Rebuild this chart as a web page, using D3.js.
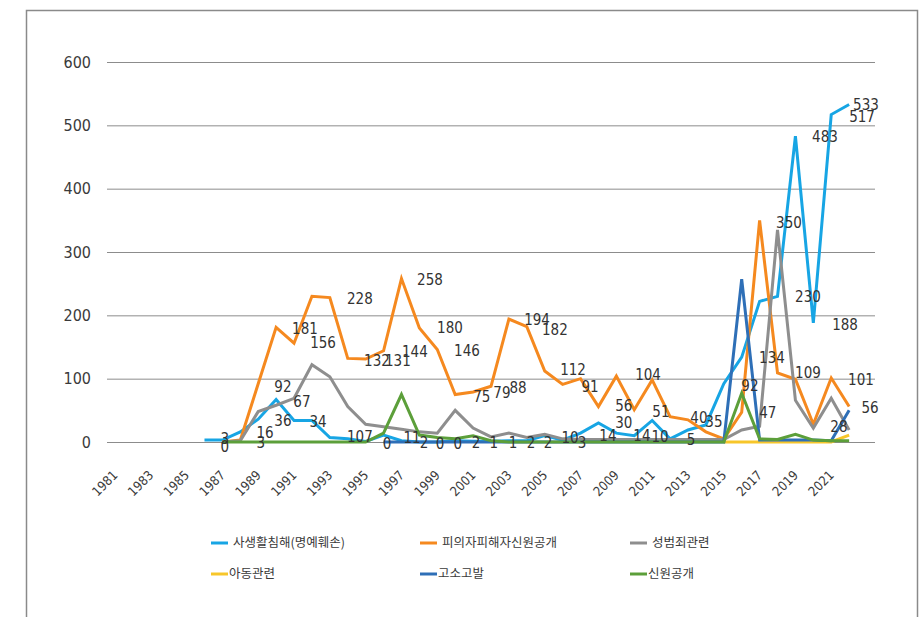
<!DOCTYPE html>
<html>
<head>
<meta charset="utf-8">
<script src="https://cdn.jsdelivr.net/npm/d3@7"></script>
<style>
    body { margin: 0; background: #fff; }
    svg text { fill: #3a3a3a; }
</style>
</head>
<body>
<div id="chart"></div>
<script>
// Years on the category axis
const years = [1981, 1982, 1983, 1984, 1985, 1986, 1987, 1988, 1989, 1990,
    1991, 1992, 1993, 1994, 1995, 1996, 1997, 1998, 1999, 2000,
    2001, 2002, 2003, 2004, 2005, 2006, 2007, 2008, 2009, 2010,
    2011, 2012, 2013, 2014, 2015, 2016, 2017, 2018, 2019, 2020,
    2021, 2022];
const yearLabels = [1981, 1983, 1985, 1987, 1989, 1991, 1993, 1995, 1997, 1999,
    2001, 2003, 2005, 2007, 2009, 2011, 2013, 2015, 2017, 2019, 2021];
const yTicks = [0, 100, 200, 300, 400, 500, 600];

const seriesNames = ["사생활침해(명예훼손)", "피의자피해자신원공개", "성범죄관련", "아동관련", "고소고발", "신원공개"];
const seriesColors = ["#17a5e4", "#f5891f", "#8e8e8e", "#f7c62a", "#2e6fb7", "#5c9f3a"];

// values per year, 1981 .. 2022 (null = no entry)
const privacy = [null, null, null, null, null, 3, 3, 16, 36, 67,
    34, 34, 7, 5, 1, 11, 2, 0, 0, 2,
    1, 1, 2, 2, 10, 3, 14, 30, 14, 10,
    34, 5, 19, 27, 92, 134, 222, 230, 483, 188,
    517, 533];
const identityDisclosure = [null, null, null, null, null, null, 0, 3, 92, 181,
    156, 230, 228, 132, 131, 144, 258, 180, 146, 75,
    79, 88, 194, 182, 112, 91, 100, 56, 104, 51,
    98, 40, 35, 16, 5, 47, 350, 109, 99, 28,
    101, 56];
const sexCrime = [null, null, null, null, null, null, 0, 2, 48, 58,
    69, 122, 103, 56, 28, 24, 20, 16, 14, 50,
    22, 8, 14, 7, 12, 5, 4, 4, 4, 4,
    4, 4, 4, 4, 4, 19, 25, 335, 66, 22,
    69, 19];
const children = [null, null, null, null, null, null, null, null, null, null,
    null, null, null, null, null, null, null, null, null, null,
    null, null, null, null, null, null, null, null, null, null,
    null, null, null, null, 0, 0, 0, 0, 0, 0,
    0, 11];
const complaint = [null, null, null, null, null, null, null, null, null, null,
    null, null, null, null, null, 0, 0, 0, 0, 0,
    0, 0, 0, 0, 0, 0, 0, 0, 0, 0,
    0, 0, 0, 0, 0, 257, 3, 3, 3, 3,
    2, 50];
const identity = [null, null, null, null, null, null, 0, 0, 0, 0,
    0, 0, 0, 0, 0, 14, 75, 11, 7, 5,
    10, 2, 0, 0, 0, 0, 0, 0, 0, 0,
    0, 0, 0, 0, 0, 77, 5, 4, 12, 3,
    2, 2];

// data labels as they sit in the picture: [year, value, text]
const dataLabels = [
    [1987.14, 4.7, "3"], [1987.14, -7.9, "0"], [1989.38, 14.2, "16"], [1989.15, -1.6, "3"],
    [1990.38, 86.8, "92"], [1990.38, 33.2, "36"], [1991.44, 63.2, "67"], [1991.61, 178.4, "181"],
    [1992.62, 156.3, "156"], [1992.34, 31.6, "34"], [1994.68, 225.8, "228"], [1994.68, 7.9, "107"],
    [1995.63, 127.9, "132"], [1996.8, 127.9, "131"], [1997.75, 142.1, "144"], [1998.59, 255.8, "258"],
    [1996.19, -3.2, "0"], [1997.59, 6.3, "11"], [1998.26, -1.6, "2"], [1999.71, 180, "180"],
    [2000.66, 143.7, "146"], [1999.15, -3.2, "0"], [2000.15, -3.2, "0"], [2001.16, -1.6, "2"],
    [2002.16, -1.6, "1"], [2003.23, -1.6, "1"], [2004.23, -1.6, "2"], [2005.18, -1.6, "2"],
    [2001.49, 71, "75"], [2002.61, 77.4, "79"], [2003.51, 85.3, "88"], [2004.57, 192.6, "194"],
    [2005.57, 176.8, "182"], [2006.58, 113.7, "112"], [2007.53, 86.8, "91"], [2006.41, 6.3, "10"],
    [2007.08, -1.6, "3"], [2008.53, 9.5, "14"], [2009.42, 56.8, "56"], [2009.42, 30, "30"],
    [2010.77, 105.8, "104"], [2010.43, 9.5, "14"], [2011.44, 7.9, "10"], [2011.49, 47.4, "51"],
    [2013.61, 37.9, "40"], [2013.17, 3.2, "5"], [2014.45, 31.6, "35"], [2016.46, 88.4, "92"],
    [2017.46, 45.8, "47"], [2017.69, 132.6, "134"], [2018.64, 345.8, "350"], [2019.7, 229, "230"],
    [2019.7, 109, "109"], [2020.65, 481.6, "483"], [2021.77, 184.7, "188"], [2021.43, 23.7, "28"],
    [2022.66, 97.9, "101"], [2023.17, 53.7, "56"], [2022.72, 513.2, "517"], [2022.94, 532.1, "533"]
];

function init() {
    const width = 922;
    const height = 617;
    const numFont = "'DejaVu Sans', sans-serif";
    const korFont = "'Noto Sans CJK KR', 'Noto Sans', sans-serif";

    const svg = d3.select("#chart").append("svg")
        .attr("width", width)
        .attr("height", height);

    // outer frame (bottom edge runs off the picture)
    svg.append("rect")
        .attr("x", 26.5).attr("y", 10.5)
        .attr("width", 891).attr("height", 640)
        .attr("fill", "none")
        .attr("stroke", "#8a8a8a")
        .attr("stroke-width", 1.5);

    const x = d3.scaleLinear().domain([1980.5, 2023.5]).range([106, 876]);
    const y = d3.scaleLinear().domain([0, 600]).range([442, 62]);

    // y axis with gridlines
    const yAxis = svg.append("g")
        .attr("transform", "translate(107,0)")
        .call(d3.axisLeft(y).tickValues(yTicks).tickSize(-768).tickPadding(16));
    yAxis.select(".domain").remove();
    yAxis.selectAll(".tick line").attr("stroke", "#8c8c8c").attr("stroke-width", 1);
    yAxis.selectAll(".tick text")
        .style("font-family", numFont)
        .style("font-stretch", "condensed")
        .style("font-size", "16px")
        .style("fill", "#3a3a3a");

    // x axis labels, rotated
    const xAxis = svg.append("g")
        .attr("transform", "translate(0,442)")
        .call(d3.axisBottom(x).tickValues(yearLabels).tickSize(0).tickFormat(d3.format("d")));
    xAxis.select(".domain").remove();
    xAxis.selectAll(".tick text")
        .attr("x", 0).attr("y", 0).attr("dy", 0)
        .attr("text-anchor", "end")
        .attr("transform", "translate(3,34) rotate(-45)")
        .style("font-family", numFont)
        .style("font-stretch", "condensed")
        .style("font-size", "13px")
        .style("fill", "#3a3a3a");

    const allSeries = [privacy, identityDisclosure, sexCrime, children, complaint, identity];

    const line = d3.line()
        .defined(d => d != null)
        .x((d, i) => x(years[i]))
        .y(d => y(d));

    svg.append("g").selectAll("path")
        .data(allSeries)
        .join("path")
        .attr("d", line)
        .attr("fill", "none")
        .attr("stroke", (d, i) => seriesColors[i])
        .attr("stroke-width", 3)
        .attr("stroke-linejoin", "miter");

    // data labels
    svg.append("g").selectAll("text")
        .data(dataLabels)
        .join("text")
        .attr("x", d => x(d[0]))
        .attr("y", d => y(d[1]))
        .attr("dy", "0.36em")
        .attr("text-anchor", "middle")
        .style("font-family", numFont)
        .style("font-stretch", "condensed")
        .style("font-size", "15px")
        .style("fill", "#333")
        .text(d => d[2]);

    // legend, two rows of three
    const legend = svg.append("g");
    const colX = [211, 420, 630];
    const rowY = [543, 574];
    seriesNames.forEach(function(name, i) {
        const lx = colX[i % 3];
        const ly = rowY[Math.floor(i / 3)];
        legend.append("line")
            .attr("x1", lx).attr("x2", lx + 17)
            .attr("y1", ly).attr("y2", ly)
            .attr("stroke", seriesColors[i])
            .attr("stroke-width", 3);
        legend.append("text")
            .attr("x", lx + (i < 3 ? 22 : 18))
            .attr("y", ly)
            .attr("dy", "0.35em")
            .style("font-family", korFont)
            .style("font-size", "12.5px")
            .style("fill", "#3a3a3a")
            .text(name);
    });
}

window.addEventListener("load", init);
</script>
</body>
</html>
